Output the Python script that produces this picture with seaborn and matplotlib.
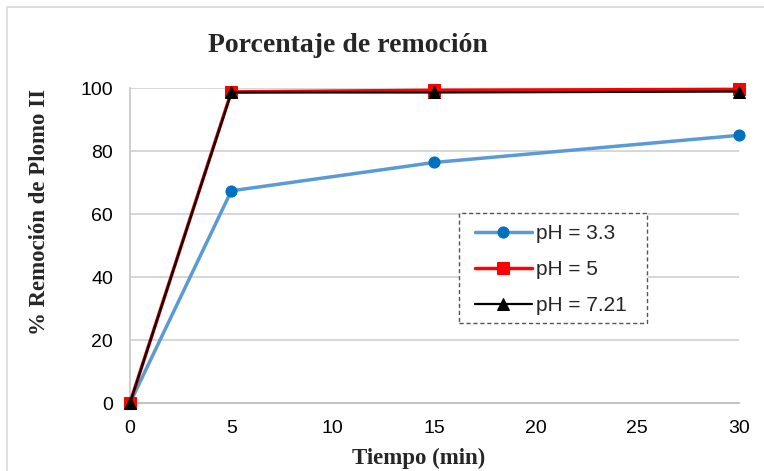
import matplotlib
matplotlib.use("Agg")
import matplotlib.pyplot as plt
import seaborn as sns
import pandas as pd
from matplotlib.patches import Rectangle

tiempo = [0, 5, 15, 30]
ph_33 = [0, 67.4, 76.4, 85.0]
ph_5 = [0, 98.8, 99.3, 99.6]
ph_721 = [0, 98.6, 98.6, 98.9]
series_names = ["pH = 3.3", "pH = 5", "pH = 7.21"]
y_ticks = [0, 20, 40, 60, 80, 100]
x_ticks = [0, 5, 10, 15, 20, 25, 30]

rows = []
for name, vals in zip(series_names, [ph_33, ph_5, ph_721]):
    for t, v in zip(tiempo, vals):
        rows.append({"Tiempo": t, "Remocion": v, "Serie": name})
df = pd.DataFrame(rows)

sns.set_theme(style="white")
plt.rcParams["font.family"] = ["Liberation Sans", "DejaVu Sans"]

fig = plt.figure(figsize=(7.64, 4.71), dpi=100)
ax = fig.add_axes([0.170, 0.144, 0.797, 0.669])

palette = {"pH = 3.3": "#5B9BD5", "pH = 5": "#FF0000", "pH = 7.21": "#000000"}
markers = {"pH = 3.3": "o", "pH = 5": "s", "pH = 7.21": "^"}
lw = {"pH = 3.3": 2.5, "pH = 5": 2.5, "pH = 7.21": 1.6}
msz = {"pH = 3.3": 8, "pH = 5": 8.5, "pH = 7.21": 8}
mfc = {"pH = 3.3": "#0070C0", "pH = 5": "#FF0000", "pH = 7.21": "#000000"}
for name in series_names:
    sub = df[df["Serie"] == name]
    sns.lineplot(data=sub, x="Tiempo", y="Remocion", ax=ax, color=palette[name],
                 marker=markers[name], markersize=msz[name], linewidth=lw[name],
                 markerfacecolor=mfc[name], markeredgecolor=mfc[name],
                 label=name, zorder=3)

ax.set_xlim(0, 30)
ax.set_ylim(0, 100)
ax.set_xticks(x_ticks)
ax.set_yticks(y_ticks)
ax.tick_params(axis="y", labelsize=14, colors="black", length=0, pad=12)
ax.tick_params(axis="x", labelsize=14, colors="black", length=0, pad=12)
ax.yaxis.grid(True, color="#D0D0D0", linewidth=1.2)
ax.xaxis.grid(False)
for s in ["top", "right"]:
    ax.spines[s].set_visible(False)
ax.spines["left"].set_color("#C8C8C8")
ax.spines["bottom"].set_color("#BFBFBF")
ax.spines["bottom"].set_linewidth(1.3)
for line in ax.get_lines():
    line.set_clip_on(False)

ax.set_xlabel("")
ax.set_ylabel("")
fig.text(419 / 764, 1 - 458 / 471, "Tiempo (min)", ha="center", va="center",
         fontfamily=["Liberation Serif"], fontweight="bold", fontsize=16.5)
fig.text(40 / 764, 1 - 212 / 471, "% Remoción de Plomo II", ha="center", va="center",
         rotation=90, fontfamily=["Liberation Serif"], fontweight="bold", fontsize=16.5)

# legend box (dashed) and entries
ax.add_patch(Rectangle((0.54, 0.254), 0.31, 0.349, transform=ax.transAxes,
                       facecolor="white", edgecolor="#555555", linewidth=1.0,
                       linestyle=(0, (3, 2)), zorder=4, clip_on=False))
leg = ax.legend(loc="upper left", bbox_to_anchor=(0.5665, 0.5685),
                frameon=False, fontsize=15, handlelength=2.75,
                handletextpad=0.2, borderpad=0, borderaxespad=0, labelspacing=0.82)
leg.set_zorder(5)

fig.text(348 / 764, 1 - 45 / 471, "Porcentaje de remoción", ha="center", va="center",
         fontfamily=["Liberation Serif"], fontweight="bold", fontsize=20)

fig.patches.append(Rectangle((0.009, -0.01), 1.0, 0.995, transform=fig.transFigure,
                             fill=False, edgecolor="#D9D9D9", linewidth=1.2))

fig.savefig("out.png", dpi=100)
